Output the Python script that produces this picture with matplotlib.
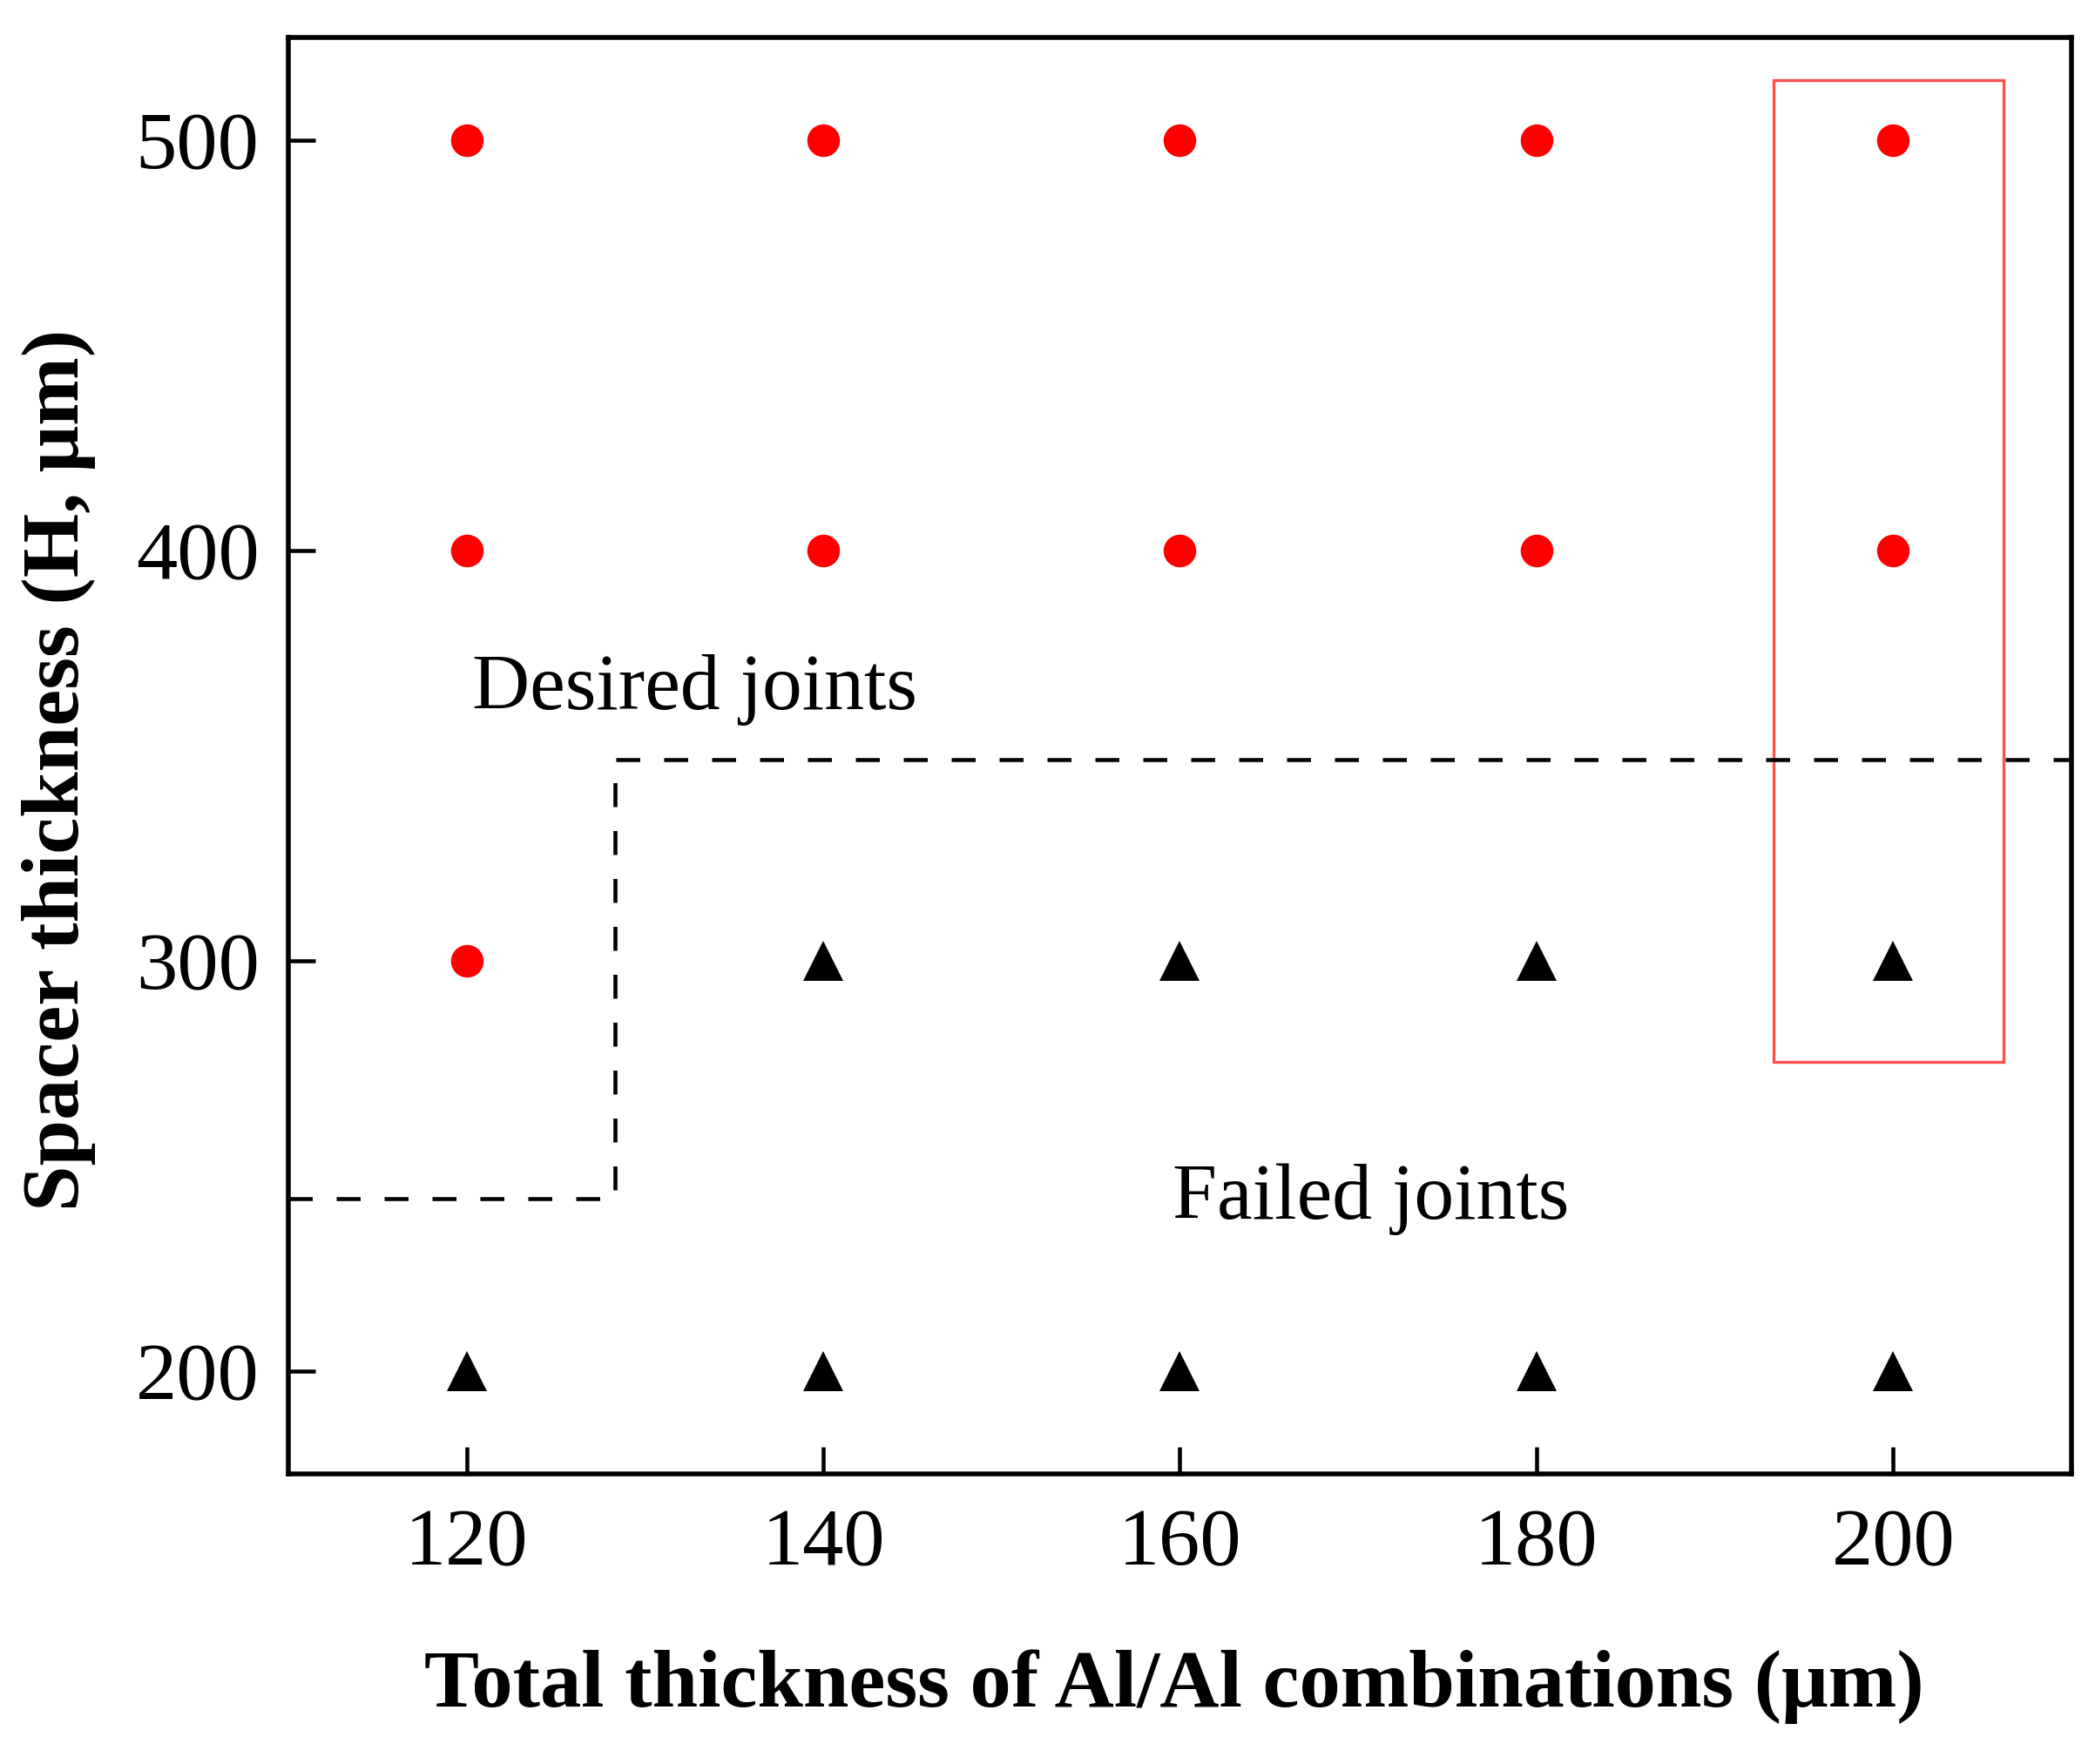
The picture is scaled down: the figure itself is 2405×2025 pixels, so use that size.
import matplotlib
matplotlib.use('Agg')
import matplotlib.pyplot as plt
from matplotlib.patches import Rectangle

plt.rcParams['font.family'] = ['Liberation Serif', 'DejaVu Serif']

# joints that worked (red dots) and failed (black triangles)
good_x = [120, 140, 160, 180, 200, 120, 140, 160, 180, 200, 120]
good_y = [500, 500, 500, 500, 500, 400, 400, 400, 400, 400, 300]
bad_x = [140, 160, 180, 200, 120, 140, 160, 180, 200]
bad_y = [300, 300, 300, 300, 200, 200, 200, 200, 200]

x_ticks = [120, 140, 160, 180, 200]
y_ticks = [200, 300, 400, 500]

# boundary between desired and failed region
border_x = [110, 128.3, 128.3, 210]
border_y = [242, 242, 349, 349]

fig = plt.figure(figsize=(24.05, 20.25), dpi=100)
ax = fig.add_axes([0.1376, 0.1644, 0.8512, 0.8144])

ax.plot(good_x, good_y, 'o', color='#ff0000', markersize=27, markeredgewidth=0)
ax.plot(bad_x, bad_y, '^', color='black', markersize=33, markeredgewidth=0)
ax.plot(border_x, border_y, color='black', lw=3.3, dashes=(6, 6))

ax.add_patch(Rectangle((193.3, 275.5), 12.9, 239.1, fill=False,
                       edgecolor='#ff5050', lw=2.4))

ax.text(120.3, 366, 'Desired joints', fontsize=66, va='center', ha='left')
ax.text(159.6, 242, 'Failed joints', fontsize=66, va='center', ha='left')

ax.set_xlim(110, 210)
ax.set_ylim(175, 525)
ax.set_xticks(x_ticks)
ax.set_yticks(y_ticks)
ax.tick_params(direction='in', length=22, width=3.3, labelsize=68)
ax.tick_params(axis='x', pad=28)
ax.tick_params(axis='y', pad=24)
for s in ax.spines.values():
    s.set_linewidth(4)

ax.set_xlabel('Total thickness of Al/Al combinations (μm)', fontsize=68, fontweight='bold')
ax.set_ylabel('Spacer thickness (H, μm)', fontsize=68, fontweight='bold')
ax.xaxis.set_label_coords(0.497, -0.122)
ax.yaxis.set_label_coords(-0.108, 0.49)

fig.savefig('out.png', dpi=100)
